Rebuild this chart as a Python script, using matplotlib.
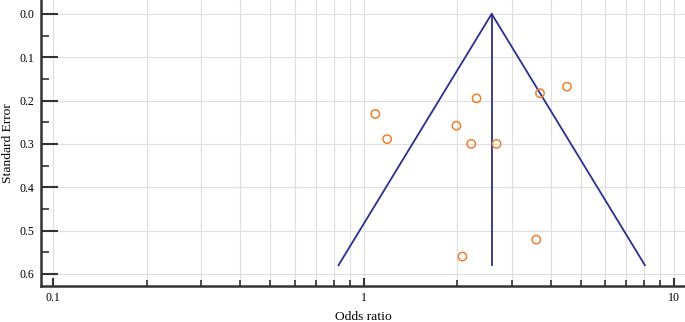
import matplotlib.pyplot as plt
from matplotlib.ticker import FixedLocator, MultipleLocator, NullFormatter
import numpy as np

# study estimates
odds_ratio = [1.09, 1.19, 1.99, 2.31, 2.22, 2.68, 3.70, 4.52, 3.60, 2.08]
std_error = [0.231, 0.289, 0.258, 0.195, 0.300, 0.300, 0.183, 0.168, 0.521, 0.560]

pooled_or = 2.585
se_max = 0.58

plt.rcParams['font.family'] = ['Liberation Serif', 'DejaVu Serif']

fig = plt.figure(figsize=(6.85, 3.22), dpi=100)
ax = fig.add_axes([41/685, 1 - 286/322, 1 - 41/685, 286/322])

# funnel (95% pseudo confidence limits)
se_line = np.array([se_max, 0.0, se_max])
lo = np.exp(np.log(pooled_or) - 1.96 * se_max)
hi = np.exp(np.log(pooled_or) + 1.96 * se_max)
ax.plot([lo, pooled_or, hi], se_line, color='#2B2F8F', lw=1.3, zorder=3)
ax.plot([pooled_or, pooled_or], [0.0, se_max], color='#2B2F8F', lw=1.3, zorder=3)

ax.scatter(odds_ratio, std_error, s=36, facecolors='none',
           edgecolors='#F07F2D', linewidths=1.1, zorder=4)

ax.set_xscale('log')
ax.set_xlim(0.0912, 10.85)
ax.set_ylim(0.628, -0.032)

ax.xaxis.set_major_locator(FixedLocator([0.1, 1, 10]))
ax.set_xticklabels(['0.1', '1', '10'])
minors = [m * d for d in (0.1, 1) for m in range(2, 10)]
ax.xaxis.set_minor_locator(FixedLocator(minors))
ax.xaxis.set_minor_formatter(NullFormatter())
ax.yaxis.set_minor_locator(MultipleLocator(0.05))
ax.set_yticks([0.0, 0.1, 0.2, 0.3, 0.4, 0.5, 0.6])
ax.set_yticklabels(['0.0', '0.1', '0.2', '0.3', '0.4', '0.5', '0.6'])

ax.grid(which='major', color='#E0E0E0', lw=0.9)
ax.grid(which='minor', axis='x', color='#E0E0E0', lw=0.9)
ax.set_axisbelow(True)

for side in ('top', 'right'):
  ax.spines[side].set_visible(False)
for side in ('left', 'bottom'):
  ax.spines[side].set_linewidth(1.8)
  ax.spines[side].set_color('#333333')

ax.tick_params(axis='y', which='major', direction='in', length=12, width=1.5,
               color='#333333', labelsize=8.6, pad=4.5)
ax.tick_params(axis='y', which='minor', direction='in', length=6, width=1.2,
               color='#333333')
ax.tick_params(axis='x', which='major', direction='in', length=6, width=1.5,
               color='#333333', labelsize=8.6, pad=4.5)
ax.tick_params(axis='x', which='minor', direction='in', length=4, width=1.2,
               color='#333333')

ax.set_xlabel('Odds ratio', fontsize=9.7)
ax.set_ylabel('Standard Error', fontsize=9.7)
ax.xaxis.set_label_coords(0.5, -0.088)
ax.yaxis.set_label_coords(-0.052, 0.5)
ax.yaxis.label.set_verticalalignment('center')

plt.savefig('out.png', dpi=100)
